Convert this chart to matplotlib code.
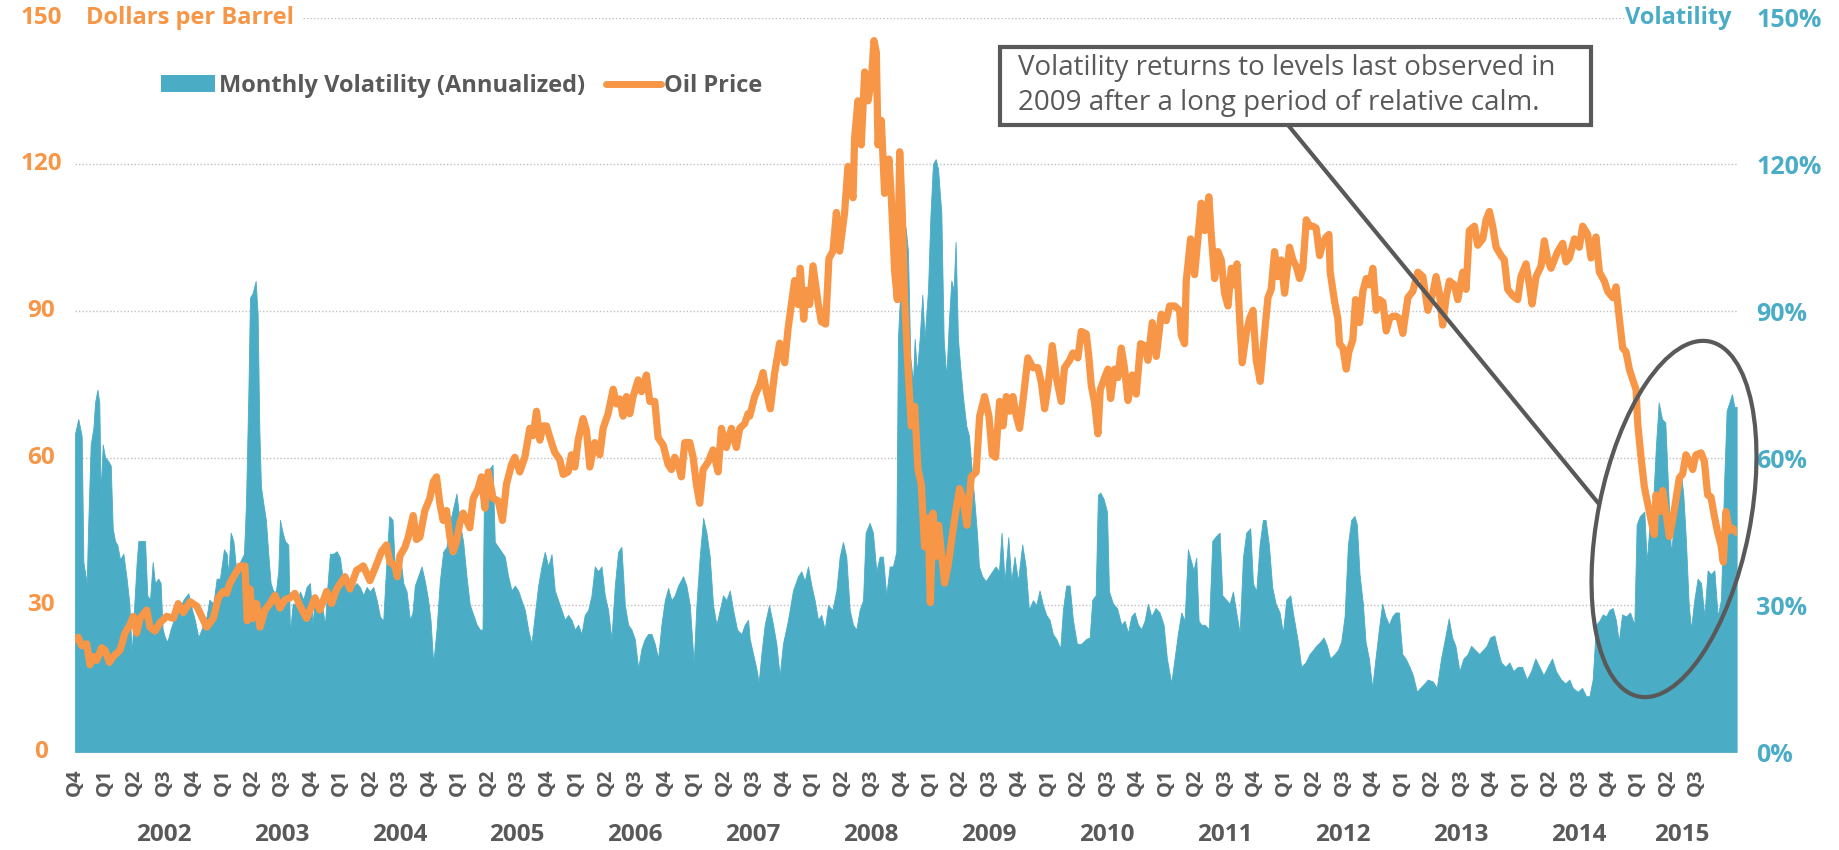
import matplotlib
matplotlib.use("Agg")
import matplotlib.pyplot as plt
from matplotlib.patches import Patch, Rectangle, Ellipse
from matplotlib.lines import Line2D
import matplotlib.transforms as mtransforms

plt.rcParams['font.family'] = ['Open Sans', 'DejaVu Sans']

ORANGE = '#F79646'
TEAL = '#4BACC6'
GRAY = '#595959'
GRID = '#BFBFBF'

# ---------------- data (decimal year, value) ----------------
oil_points = [
    (2001.750, 23.0), (2001.778, 23.4), (2001.807, 21.7), (2001.849, 22.1), (2001.877, 17.8),
    (2001.906, 19.5), (2001.934, 18.7), (2001.976, 21.3), (2002.005, 20.8), (2002.041, 18.3),
    (2002.075, 19.5), (2002.132, 20.8), (2002.174, 24.3), (2002.216, 26.0), (2002.245, 27.7),
    (2002.273, 24.3), (2002.301, 27.3), (2002.358, 29.0), (2002.386, 25.5), (2002.428, 24.7),
    (2002.471, 26.4), (2002.527, 27.7), (2002.584, 27.3), (2002.626, 30.3), (2002.669, 28.5),
    (2002.725, 30.7), (2002.782, 29.8), (2002.824, 27.7), (2002.866, 25.5), (2002.923, 27.3),
    (2002.965, 31.5), (2003.008, 32.8), (2003.036, 32.4), (2003.064, 34.5), (2003.107, 36.3),
    (2003.149, 38.0), (2003.191, 38.0), (2003.211, 26.8), (2003.234, 33.3), (2003.256, 27.3),
    (2003.290, 30.3), (2003.319, 25.5), (2003.361, 29.0), (2003.403, 30.3), (2003.446, 32.0),
    (2003.488, 29.4), (2003.531, 31.1), (2003.573, 31.5), (2003.615, 32.4), (2003.658, 29.8),
    (2003.714, 27.3), (2003.757, 29.8), (2003.785, 31.5), (2003.827, 29.0), (2003.884, 32.8),
    (2003.926, 30.3), (2003.969, 33.3), (2004.039, 35.8), (2004.082, 33.3), (2004.138, 37.1),
    (2004.195, 38.0), (2004.251, 35.0), (2004.294, 37.5), (2004.350, 41.0), (2004.392, 42.3),
    (2004.421, 38.8), (2004.463, 38.0), (2004.483, 35.8), (2004.506, 40.1), (2004.548, 41.8),
    (2004.576, 43.9), (2004.618, 48.3), (2004.646, 43.4), (2004.675, 43.9), (2004.717, 49.3),
    (2004.759, 51.8), (2004.788, 55.2), (2004.816, 56.2), (2004.844, 50.8), (2004.872, 47.3),
    (2004.901, 49.3), (2004.929, 43.9), (2004.957, 40.9), (2004.985, 42.9), (2005.014, 46.8),
    (2005.042, 48.8), (2005.070, 47.3), (2005.098, 45.8), (2005.127, 51.8), (2005.169, 53.8),
    (2005.197, 56.2), (2005.226, 49.8), (2005.254, 57.2), (2005.296, 51.8), (2005.339, 51.3),
    (2005.375, 47.3), (2005.409, 54.7), (2005.452, 58.7), (2005.480, 60.2), (2005.522, 57.2),
    (2005.565, 60.2), (2005.607, 66.1), (2005.635, 64.6), (2005.664, 69.6), (2005.692, 63.7),
    (2005.720, 66.6), (2005.748, 66.6), (2005.791, 63.2), (2005.819, 61.2), (2005.861, 59.7),
    (2005.890, 56.7), (2005.932, 57.2), (2005.960, 60.7), (2005.989, 58.2), (2006.017, 63.7),
    (2006.059, 68.1), (2006.088, 65.6), (2006.116, 58.2), (2006.158, 63.2), (2006.201, 60.7),
    (2006.229, 66.1), (2006.271, 69.1), (2006.314, 74.1), (2006.342, 71.1), (2006.370, 72.1),
    (2006.398, 68.6), (2006.427, 72.6), (2006.455, 69.1), (2006.483, 72.6), (2006.526, 76.0),
    (2006.554, 73.6), (2006.596, 77.0), (2006.625, 71.6), (2006.667, 71.6), (2006.695, 64.2),
    (2006.738, 62.7), (2006.780, 58.7), (2006.808, 57.7), (2006.836, 60.2), (2006.865, 58.7),
    (2006.893, 56.2), (2006.921, 63.2), (2006.964, 63.2), (2006.992, 60.2), (2007.020, 54.7),
    (2007.048, 50.8), (2007.077, 57.7), (2007.119, 59.2), (2007.161, 61.7), (2007.204, 57.2),
    (2007.232, 66.1), (2007.274, 62.2), (2007.317, 66.1), (2007.359, 62.2), (2007.387, 66.1),
    (2007.430, 67.1), (2007.458, 69.1), (2007.472, 68.6), (2007.514, 72.6), (2007.557, 75.0),
    (2007.585, 77.5), (2007.613, 73.6), (2007.647, 70.1), (2007.684, 77.5), (2007.726, 83.5),
    (2007.769, 79.5), (2007.797, 86.4), (2007.825, 91.4), (2007.853, 96.3), (2007.882, 91.4),
    (2007.901, 98.8), (2007.930, 88.4), (2007.952, 94.3), (2007.980, 91.4), (2008.009, 99.3),
    (2008.051, 91.9), (2008.079, 87.9), (2008.116, 87.4), (2008.144, 100.8), (2008.178, 102.3),
    (2008.207, 110.2), (2008.235, 102.3), (2008.277, 110.2), (2008.305, 119.6), (2008.348, 113.2),
    (2008.362, 125.5), (2008.390, 133.0), (2008.418, 124.0), (2008.447, 138.9), (2008.475, 133.0),
    (2008.503, 136.9), (2008.526, 145.3), (2008.546, 142.9), (2008.560, 124.0), (2008.588, 129.0),
    (2008.616, 114.1), (2008.653, 121.1), (2008.673, 113.2), (2008.701, 98.3), (2008.724, 92.4),
    (2008.744, 122.6), (2008.766, 110.2), (2008.786, 92.4), (2008.814, 78.5), (2008.842, 66.6),
    (2008.871, 70.6), (2008.899, 57.7), (2008.927, 54.7), (2008.955, 41.9), (2008.984, 47.8),
    (2009.004, 30.5), (2009.026, 48.8), (2009.049, 39.9), (2009.074, 46.3), (2009.097, 40.9),
    (2009.125, 34.5), (2009.153, 37.9), (2009.196, 45.3), (2009.224, 49.8), (2009.252, 53.8),
    (2009.280, 51.8), (2009.314, 46.3), (2009.351, 56.2), (2009.393, 57.2), (2009.422, 68.6),
    (2009.464, 72.6), (2009.501, 68.6), (2009.529, 60.7), (2009.557, 60.2), (2009.591, 71.6),
    (2009.620, 66.6), (2009.648, 72.6), (2009.676, 69.6), (2009.704, 72.6), (2009.733, 68.6),
    (2009.761, 66.1), (2009.803, 74.5), (2009.831, 80.5), (2009.874, 78.5), (2009.916, 78.5),
    (2009.945, 75.5), (2009.973, 70.1), (2010.001, 74.5), (2010.038, 83.0), (2010.072, 76.5),
    (2010.114, 71.6), (2010.142, 78.5), (2010.185, 80.0), (2010.213, 81.5), (2010.255, 80.5),
    (2010.284, 85.9), (2010.326, 85.4), (2010.349, 80.5), (2010.369, 74.8), (2010.397, 71.4),
    (2010.425, 65.0), (2010.445, 74.0), (2010.482, 76.5), (2010.510, 78.2), (2010.533, 72.2),
    (2010.567, 78.2), (2010.595, 76.5), (2010.623, 82.5), (2010.652, 78.2), (2010.680, 71.8),
    (2010.717, 77.0), (2010.750, 73.1), (2010.787, 83.4), (2010.821, 83.0), (2010.849, 80.0),
    (2010.886, 87.7), (2010.920, 80.8), (2010.962, 89.4), (2011.005, 88.1), (2011.033, 91.1),
    (2011.075, 91.1), (2011.118, 90.2), (2011.132, 85.1), (2011.160, 83.4), (2011.174, 96.2),
    (2011.211, 104.8), (2011.245, 97.5), (2011.273, 104.8), (2011.301, 112.1), (2011.330, 106.5),
    (2011.366, 113.4), (2011.386, 105.7), (2011.415, 96.7), (2011.443, 102.2), (2011.471, 100.5),
    (2011.499, 93.7), (2011.528, 91.1), (2011.556, 98.8), (2011.584, 95.4), (2011.604, 99.7),
    (2011.627, 88.5), (2011.649, 79.5), (2011.683, 85.5), (2011.711, 88.5), (2011.740, 90.2),
    (2011.768, 80.0), (2011.802, 75.7), (2011.830, 83.4), (2011.867, 92.8), (2011.895, 94.5),
    (2011.923, 102.2), (2011.951, 97.1), (2011.980, 100.5), (2012.008, 93.7), (2012.050, 103.1),
    (2012.079, 100.5), (2012.107, 99.2), (2012.135, 96.7), (2012.163, 98.8), (2012.192, 108.7),
    (2012.220, 107.4), (2012.248, 107.4), (2012.276, 107.0), (2012.305, 101.4), (2012.333, 104.0),
    (2012.361, 105.2), (2012.384, 105.7), (2012.395, 98.0), (2012.432, 92.0), (2012.460, 88.5),
    (2012.474, 83.4), (2012.503, 82.5), (2012.531, 78.2), (2012.553, 81.7), (2012.587, 84.2),
    (2012.610, 92.4), (2012.644, 87.7), (2012.672, 94.1), (2012.700, 96.7), (2012.729, 95.4),
    (2012.757, 98.8), (2012.785, 90.2), (2012.813, 92.4), (2012.842, 91.9), (2012.870, 86.0),
    (2012.898, 88.5), (2012.926, 89.0), (2012.955, 89.0), (2012.983, 88.5), (2013.011, 85.5),
    (2013.054, 92.8), (2013.096, 94.1), (2013.138, 98.0), (2013.181, 97.1), (2013.223, 90.2),
    (2013.265, 93.7), (2013.293, 97.1), (2013.321, 93.7), (2013.349, 87.2), (2013.378, 92.8),
    (2013.406, 96.2), (2013.448, 95.4), (2013.477, 92.4), (2013.519, 98.0), (2013.547, 94.5),
    (2013.575, 106.5), (2013.618, 107.4), (2013.646, 103.5), (2013.689, 104.8), (2013.717, 108.7),
    (2013.745, 110.4), (2013.773, 107.4), (2013.802, 103.1), (2013.844, 101.4), (2013.872, 100.5),
    (2013.900, 94.5), (2013.943, 93.2), (2013.985, 92.4), (2014.013, 97.1), (2014.056, 99.7),
    (2014.084, 95.4), (2014.107, 91.5), (2014.141, 97.1), (2014.183, 99.2), (2014.211, 104.4),
    (2014.240, 100.5), (2014.268, 98.8), (2014.296, 100.5), (2014.324, 102.2), (2014.367, 103.9),
    (2014.395, 100.1), (2014.423, 100.9), (2014.466, 104.8), (2014.508, 103.1), (2014.536, 107.4),
    (2014.579, 105.7), (2014.607, 100.9), (2014.649, 105.2), (2014.678, 98.0), (2014.720, 96.2),
    (2014.748, 94.1), (2014.791, 92.8), (2014.819, 95.0), (2014.847, 88.5), (2014.876, 82.5),
    (2014.904, 81.7), (2014.932, 78.2), (2014.960, 76.1), (2014.989, 74.0), (2015.003, 67.1),
    (2015.031, 60.2), (2015.059, 54.2), (2015.087, 50.8), (2015.116, 47.4), (2015.144, 44.4),
    (2015.158, 52.5), (2015.186, 49.1), (2015.215, 53.4), (2015.243, 48.7), (2015.271, 44.0),
    (2015.299, 47.4), (2015.328, 51.7), (2015.356, 56.0), (2015.384, 56.8), (2015.412, 60.7),
    (2015.441, 59.4), (2015.469, 57.7), (2015.497, 60.7), (2015.540, 61.1), (2015.568, 59.4),
    (2015.596, 52.5), (2015.624, 52.1), (2015.653, 48.2), (2015.681, 44.8), (2015.709, 42.3),
    (2015.729, 38.8), (2015.751, 49.1), (2015.780, 45.2), (2015.808, 45.7), (2015.842, 44.8),
]

vol_points = [
    (2001.750, 65.0), (2001.778, 68.0), (2001.807, 64.5), (2001.821, 38.8), (2001.849, 34.5),
    (2001.863, 47.4), (2001.883, 62.8), (2001.906, 66.2), (2001.920, 71.4), (2001.940, 74.0),
    (2001.956, 71.4), (2001.968, 52.5), (2001.985, 62.8), (2002.005, 60.2), (2002.033, 59.4),
    (2002.053, 58.5), (2002.070, 45.7), (2002.089, 43.1), (2002.109, 42.3), (2002.132, 39.3),
    (2002.160, 40.5), (2002.188, 35.4), (2002.211, 30.3), (2002.231, 20.0), (2002.250, 29.0),
    (2002.273, 38.8), (2002.287, 43.1), (2002.315, 43.1), (2002.344, 43.1), (2002.363, 32.0),
    (2002.386, 31.1), (2002.409, 38.8), (2002.428, 34.5), (2002.457, 35.4), (2002.476, 34.5),
    (2002.493, 25.1), (2002.513, 23.4), (2002.533, 22.5), (2002.561, 25.1), (2002.598, 27.7),
    (2002.635, 29.0), (2002.669, 31.1), (2002.711, 32.4), (2002.739, 29.4), (2002.768, 26.8),
    (2002.796, 23.4), (2002.824, 25.1), (2002.866, 27.7), (2002.889, 31.1), (2002.923, 30.3),
    (2002.951, 35.4), (2002.979, 35.4), (2003.013, 41.4), (2003.036, 40.5), (2003.050, 36.3),
    (2003.070, 44.8), (2003.093, 43.1), (2003.121, 36.3), (2003.149, 38.8), (2003.183, 40.5),
    (2003.200, 50.8), (2003.220, 73.1), (2003.234, 92.8), (2003.256, 93.7), (2003.282, 96.2),
    (2003.299, 89.4), (2003.313, 66.2), (2003.327, 54.2), (2003.347, 50.8), (2003.369, 47.4),
    (2003.389, 40.5), (2003.409, 34.5), (2003.432, 32.8), (2003.454, 32.8), (2003.474, 37.1),
    (2003.488, 47.4), (2003.511, 44.8), (2003.531, 43.1), (2003.559, 42.3), (2003.573, 24.3),
    (2003.596, 30.3), (2003.629, 30.3), (2003.658, 32.8), (2003.686, 31.1), (2003.714, 33.7),
    (2003.743, 34.5), (2003.765, 26.0), (2003.785, 32.0), (2003.813, 31.1), (2003.842, 30.3),
    (2003.870, 26.0), (2003.890, 33.7), (2003.912, 40.5), (2003.940, 40.5), (2003.969, 41.0),
    (2003.997, 39.7), (2004.020, 35.4), (2004.048, 34.5), (2004.082, 32.8), (2004.110, 33.7),
    (2004.138, 34.5), (2004.166, 33.7), (2004.195, 32.0), (2004.223, 33.7), (2004.251, 32.8),
    (2004.280, 33.7), (2004.308, 31.1), (2004.336, 27.7), (2004.364, 26.8), (2004.387, 37.1),
    (2004.415, 48.2), (2004.443, 47.4), (2004.463, 37.1), (2004.483, 38.8), (2004.506, 40.5),
    (2004.534, 34.5), (2004.562, 32.8), (2004.590, 27.0), (2004.612, 28.5), (2004.632, 34.0),
    (2004.660, 35.9), (2004.689, 37.9), (2004.717, 34.9), (2004.745, 31.0), (2004.765, 27.0),
    (2004.788, 18.1), (2004.816, 25.0), (2004.844, 34.9), (2004.872, 40.9), (2004.901, 41.9),
    (2004.929, 46.8), (2004.957, 49.8), (2004.985, 52.8), (2005.014, 46.8), (2005.042, 42.9),
    (2005.070, 35.9), (2005.098, 30.1), (2005.127, 28.1), (2005.155, 26.1), (2005.183, 25.0),
    (2005.206, 25.0), (2005.217, 49.8), (2005.240, 57.2), (2005.262, 57.7), (2005.291, 58.7),
    (2005.310, 42.9), (2005.339, 41.9), (2005.367, 40.9), (2005.395, 39.9), (2005.423, 35.9),
    (2005.452, 33.0), (2005.480, 34.0), (2005.508, 33.0), (2005.536, 31.0), (2005.565, 29.0),
    (2005.593, 25.0), (2005.621, 22.1), (2005.649, 28.0), (2005.678, 34.0), (2005.706, 37.9),
    (2005.734, 40.9), (2005.763, 37.9), (2005.791, 40.4), (2005.819, 33.0), (2005.847, 31.0),
    (2005.876, 29.0), (2005.904, 27.0), (2005.932, 28.0), (2005.960, 27.0), (2005.989, 25.0),
    (2006.017, 26.0), (2006.045, 24.1), (2006.073, 28.0), (2006.102, 29.0), (2006.130, 32.0),
    (2006.158, 37.9), (2006.186, 36.9), (2006.215, 37.9), (2006.243, 32.0), (2006.271, 29.0),
    (2006.299, 23.1), (2006.328, 34.0), (2006.356, 40.9), (2006.384, 41.9), (2006.413, 30.0),
    (2006.441, 26.0), (2006.469, 25.0), (2006.497, 23.1), (2006.526, 17.1), (2006.554, 21.1),
    (2006.582, 23.1), (2006.610, 24.1), (2006.639, 24.1), (2006.667, 22.1), (2006.695, 19.1),
    (2006.723, 26.0), (2006.752, 31.0), (2006.780, 33.5), (2006.808, 31.0), (2006.836, 32.0),
    (2006.865, 34.0), (2006.907, 35.9), (2006.935, 34.0), (2006.964, 30.0), (2006.997, 18.1),
    (2007.020, 30.0), (2007.048, 39.9), (2007.077, 47.8), (2007.105, 44.8), (2007.133, 39.9),
    (2007.161, 30.0), (2007.190, 26.0), (2007.218, 29.0), (2007.246, 32.0), (2007.274, 31.0),
    (2007.303, 33.0), (2007.331, 29.0), (2007.365, 25.0), (2007.402, 24.1), (2007.430, 26.0),
    (2007.458, 27.0), (2007.472, 23.1), (2007.500, 20.1), (2007.528, 17.1), (2007.548, 14.2),
    (2007.571, 20.1), (2007.599, 26.0), (2007.636, 30.0), (2007.670, 26.0), (2007.698, 22.1),
    (2007.726, 15.6), (2007.754, 22.1), (2007.797, 27.0), (2007.839, 33.0), (2007.882, 35.9),
    (2007.910, 36.9), (2007.938, 34.9), (2007.966, 37.9), (2007.995, 34.0), (2008.023, 31.0),
    (2008.051, 27.0), (2008.079, 28.0), (2008.108, 25.0), (2008.136, 30.0), (2008.173, 29.0),
    (2008.207, 33.0), (2008.235, 39.9), (2008.263, 42.9), (2008.291, 39.9), (2008.320, 29.0),
    (2008.348, 26.0), (2008.376, 25.0), (2008.404, 29.0), (2008.433, 31.0), (2008.455, 44.8),
    (2008.489, 46.8), (2008.517, 44.8), (2008.546, 36.9), (2008.574, 39.9), (2008.602, 39.9),
    (2008.630, 32.0), (2008.659, 37.9), (2008.687, 37.9), (2008.715, 40.9), (2008.729, 84.4),
    (2008.749, 94.3), (2008.772, 89.4), (2008.794, 107.2), (2008.814, 102.3), (2008.834, 80.5),
    (2008.857, 75.5), (2008.871, 84.4), (2008.890, 77.5), (2008.913, 84.4), (2008.936, 93.4),
    (2008.955, 84.4), (2008.984, 94.3), (2009.004, 109.2), (2009.026, 120.1), (2009.049, 121.1),
    (2009.069, 119.1), (2009.097, 110.2), (2009.117, 84.4), (2009.139, 76.5), (2009.162, 88.4),
    (2009.182, 96.3), (2009.201, 94.3), (2009.218, 104.2), (2009.238, 84.4), (2009.258, 78.5),
    (2009.280, 72.6), (2009.309, 66.6), (2009.331, 64.6), (2009.351, 58.7), (2009.379, 50.8),
    (2009.399, 44.8), (2009.416, 37.9), (2009.444, 35.9), (2009.473, 34.9), (2009.501, 35.9),
    (2009.529, 36.9), (2009.557, 37.9), (2009.586, 36.9), (2009.608, 44.8), (2009.634, 34.9),
    (2009.665, 43.9), (2009.690, 34.9), (2009.718, 39.9), (2009.747, 34.9), (2009.783, 42.4),
    (2009.812, 37.9), (2009.840, 29.0), (2009.874, 31.0), (2009.902, 30.0), (2009.930, 33.0),
    (2009.959, 30.0), (2009.987, 28.0), (2010.015, 27.0), (2010.043, 24.1), (2010.072, 23.1),
    (2010.106, 21.1), (2010.128, 29.0), (2010.156, 34.0), (2010.185, 34.0), (2010.213, 27.0),
    (2010.247, 22.1), (2010.284, 22.1), (2010.326, 23.1), (2010.355, 23.4), (2010.377, 31.1),
    (2010.406, 32.0), (2010.425, 52.5), (2010.445, 53.0), (2010.473, 51.7), (2010.502, 49.1),
    (2010.519, 32.8), (2010.553, 30.3), (2010.587, 29.4), (2010.623, 26.0), (2010.652, 26.8),
    (2010.680, 24.3), (2010.708, 27.7), (2010.736, 28.5), (2010.765, 26.0), (2010.793, 25.1),
    (2010.821, 26.8), (2010.849, 30.3), (2010.878, 27.7), (2010.914, 29.4), (2010.948, 28.5),
    (2010.982, 26.0), (2011.010, 19.1), (2011.047, 14.1), (2011.075, 19.1), (2011.104, 24.3),
    (2011.132, 28.5), (2011.160, 26.8), (2011.188, 41.4), (2011.217, 38.8), (2011.236, 37.1),
    (2011.259, 39.7), (2011.279, 26.8), (2011.301, 26.0), (2011.330, 26.0), (2011.366, 25.1),
    (2011.395, 43.1), (2011.423, 44.0), (2011.457, 44.8), (2011.480, 32.0), (2011.513, 31.1),
    (2011.542, 30.3), (2011.570, 32.8), (2011.598, 28.5), (2011.627, 24.3), (2011.655, 39.7),
    (2011.683, 44.8), (2011.717, 45.7), (2011.740, 34.5), (2011.768, 32.8), (2011.796, 42.3),
    (2011.824, 47.4), (2011.847, 47.4), (2011.875, 42.3), (2011.903, 33.7), (2011.932, 30.3),
    (2011.966, 28.5), (2011.994, 24.3), (2012.022, 31.1), (2012.056, 32.0), (2012.084, 27.7),
    (2012.121, 22.5), (2012.149, 17.4), (2012.186, 18.3), (2012.220, 20.0), (2012.248, 20.8),
    (2012.276, 21.7), (2012.310, 22.5), (2012.339, 23.4), (2012.367, 21.7), (2012.395, 19.1),
    (2012.432, 20.0), (2012.460, 20.8), (2012.488, 22.5), (2012.517, 27.7), (2012.545, 42.3),
    (2012.573, 47.4), (2012.601, 48.2), (2012.621, 46.5), (2012.644, 36.3), (2012.672, 30.3),
    (2012.695, 22.5), (2012.723, 19.1), (2012.751, 13.1), (2012.779, 19.1), (2012.808, 25.1),
    (2012.836, 30.3), (2012.864, 27.7), (2012.893, 26.0), (2012.921, 27.7), (2012.949, 28.5),
    (2012.977, 28.5), (2013.006, 20.0), (2013.034, 19.1), (2013.068, 17.4), (2013.096, 15.7),
    (2013.130, 12.3), (2013.158, 13.1), (2013.195, 14.0), (2013.222, 14.8), (2013.265, 14.4),
    (2013.299, 13.1), (2013.335, 19.1), (2013.363, 22.5), (2013.400, 27.3), (2013.429, 23.4),
    (2013.457, 21.7), (2013.491, 16.5), (2013.525, 19.1), (2013.561, 20.0), (2013.590, 21.7),
    (2013.626, 20.8), (2013.660, 20.0), (2013.689, 20.8), (2013.722, 21.7), (2013.751, 23.4),
    (2013.787, 23.8), (2013.816, 20.8), (2013.844, 18.3), (2013.881, 17.4), (2013.915, 18.3),
    (2013.948, 16.5), (2013.985, 17.4), (2014.022, 17.4), (2014.062, 14.8), (2014.098, 16.5),
    (2014.135, 19.1), (2014.169, 17.4), (2014.203, 15.7), (2014.240, 17.4), (2014.276, 19.1),
    (2014.310, 16.5), (2014.353, 14.8), (2014.389, 14.0), (2014.423, 14.8), (2014.452, 13.1),
    (2014.494, 12.3), (2014.531, 13.1), (2014.565, 11.4), (2014.593, 11.4), (2014.621, 14.8),
    (2014.649, 26.0), (2014.678, 26.8), (2014.706, 28.1), (2014.734, 27.7), (2014.762, 29.0),
    (2014.791, 29.4), (2014.819, 26.8), (2014.842, 22.5), (2014.870, 28.1), (2014.904, 27.7),
    (2014.938, 28.5), (2014.974, 26.0), (2014.994, 46.5), (2015.022, 48.2), (2015.059, 49.1),
    (2015.079, 38.8), (2015.107, 47.4), (2015.135, 51.7), (2015.158, 62.8), (2015.181, 71.4),
    (2015.209, 68.0), (2015.237, 67.3), (2015.257, 56.0), (2015.285, 40.5), (2015.313, 47.4),
    (2015.342, 53.4), (2015.370, 56.8), (2015.390, 52.5), (2015.412, 43.1), (2015.435, 30.3),
    (2015.455, 25.1), (2015.483, 31.1), (2015.511, 35.4), (2015.540, 34.5), (2015.568, 27.7),
    (2015.596, 37.1), (2015.624, 36.3), (2015.653, 37.1), (2015.681, 27.7), (2015.709, 31.1),
    (2015.737, 56.0), (2015.757, 69.7), (2015.780, 71.4), (2015.802, 73.1), (2015.822, 70.5),
    (2015.842, 70.5),
]

quarter_labels = ['Q4'] + ['Q1', 'Q2', 'Q3', 'Q4'] * 13 + ['Q1', 'Q2', 'Q3']
first_quarter_start = 2001.75
years = list(range(2002, 2016))
value_ticks = [0, 30, 60, 90, 120, 150]
legend_labels = ['Monthly Volatility (Annualized)', 'Oil Price']
left_title = 'Dollars per Barrel'
right_title = 'Volatility'
note_lines = ['Volatility returns to levels last observed in',
              '2009 after a long period of relative calm.']

# ---------------- figure ----------------
W, H = 1839, 850
fig = plt.figure(figsize=(W / 100, H / 100), dpi=100)
fig.patch.set_facecolor('white')
ax = fig.add_axes([75 / W, (H - 752) / H, 1662 / W, (752 - 17.6) / H])
ax.set_xlim(2001.75, 2015.845)
ax.set_ylim(0, 150)

od = [p[0] for p in oil_points]
ov = [p[1] for p in oil_points]
vd = [p[0] for p in vol_points]
vv = [p[1] for p in vol_points]

# gridlines
for v in value_ticks[:-1]:
    ax.axhline(v, color=GRID, lw=1.0, ls=(0, (1, 1.5)), zorder=1)
ax.axhline(150, xmin=0.137, xmax=0.932, color=GRID, lw=1.0, ls=(0, (1, 1.5)), zorder=1)

ax.fill_between(vd, vv, 0, facecolor=TEAL, edgecolor=TEAL, lw=0.6, zorder=2)
ax.plot(od, ov, color=ORANGE, lw=5.2, solid_joinstyle='round', solid_capstyle='round', zorder=3)

for s in ax.spines.values():
    s.set_visible(False)

# x ticks: quarters
qpos = [first_quarter_start + 0.25 * i for i in range(len(quarter_labels))]
ax.set_xticks(qpos)
ax.set_xticklabels(quarter_labels, rotation=90, fontsize=14.5, fontweight='bold', color=GRAY)
ax.tick_params(axis='x', length=0, pad=12)

# year labels
blend = mtransforms.blended_transform_factory(ax.transData, ax.transAxes)
for y in years:
    ps = [p for p in qpos if y <= p < y + 1]
    xc = (min(ps) + max(ps)) / 2 + 0.125
    ax.text(xc, -0.113, str(y), transform=blend, ha='center', va='center',
            fontsize=17.5, fontweight='bold', color=GRAY)

# left y tick labels (centered in the left margin)
ax.set_yticks(value_ticks)
ax.tick_params(axis='y', length=0, labelleft=False)
blend_y = mtransforms.blended_transform_factory(ax.transAxes, ax.transData)
for v in value_ticks:
    ax.text(-0.0205, v, str(v), transform=blend_y, ha='center', va='center',
            fontsize=17.5, fontweight='bold', color=ORANGE)

# right y axis
ax2 = ax.twinx()
ax2.set_ylim(0, 150)
ax2.set_yticks(value_ticks)
ax2.set_yticklabels([f'{v}%' for v in value_ticks])
ax2.tick_params(axis='y', length=0, pad=14, labelsize=18, labelcolor=TEAL)
for lbl in ax2.get_yticklabels():
    lbl.set_fontweight('bold')
for s in ax2.spines.values():
    s.set_visible(False)

ax.text(0.0066, 150, left_title, transform=blend_y, ha='left', va='center',
        fontsize=17, fontweight='bold', color=ORANGE)
ax.text(0.997, 150, right_title, transform=blend_y, ha='right', va='center',
        fontsize=17, fontweight='bold', color=TEAL)

# legend
handles = [Patch(facecolor=TEAL, edgecolor='none', label=legend_labels[0]),
           Line2D([], [], color=ORANGE, lw=5, solid_capstyle='round', label=legend_labels[1])]
fig.legend(handles=handles, loc='center left', bbox_to_anchor=(161 / W, (H - 86) / H),
           ncol=2, frameon=False, prop={'family': 'Open Sans', 'weight': 'bold', 'size': 17},
           handlelength=2.3, handletextpad=0.15, columnspacing=0.9,
           borderpad=0, borderaxespad=0, labelcolor=GRAY)

# annotation overlay (pixel coordinates, y up)
ovl = fig.add_axes([0, 0, 1, 1])
ovl.set_xlim(0, W)
ovl.set_ylim(0, H)
ovl.axis('off')
ovl.patch.set_alpha(0)
ovl.plot([1288, 1599], [H - 125, H - 504], color=GRAY, lw=3, solid_capstyle='butt', zorder=2)
ovl.add_patch(Rectangle((1000, H - 125), 591, 78, facecolor='white', edgecolor=GRAY, lw=3, zorder=3))
ovl.text(1018, H - 68, note_lines[0], ha='left', va='center', fontsize=20, color=GRAY, zorder=4)
ovl.text(1018, H - 103, note_lines[1], ha='left', va='center', fontsize=20, color=GRAY, zorder=4)
ovl.add_patch(Ellipse((1674, H - 519), width=362, height=152, angle=78.75,
                      fill=False, edgecolor=GRAY, lw=3, zorder=4))

fig.savefig('out.png', dpi=100)
